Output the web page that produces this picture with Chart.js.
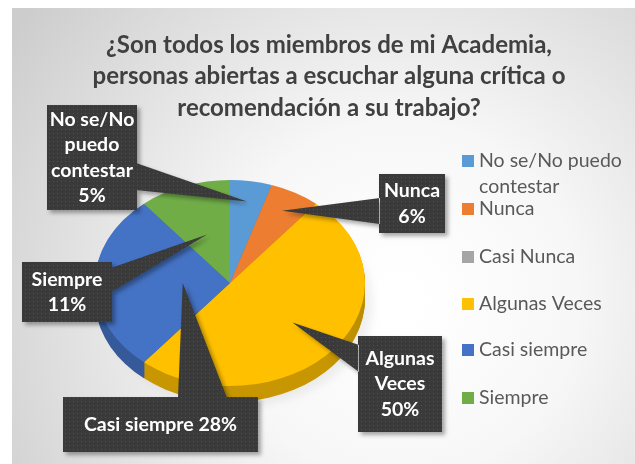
<!DOCTYPE html>
<html>
<head>
<meta charset="utf-8">
<script src="https://cdn.jsdelivr.net/npm/chart.js@4.4.1/dist/chart.umd.min.js"></script>
<style>
  body { margin: 0; background: #fff; }
  #wrap { width: 635px; height: 464px; }
</style>
</head>
<body>
<div id="wrap"><canvas id="pieChart" width="635" height="464"></canvas></div>
<script>
const titleLines = ['¿Son todos los miembros de mi Academia,', 'personas abiertas a escuchar alguna crítica o', 'recomendación a su trabajo?'];
const labels = ['No se/No puedo contestar', 'Nunca', 'Casi Nunca', 'Algunas Veces', 'Casi siempre', 'Siempre'];
const values = [5, 6, 0, 50, 28, 11];
const colors = ['#5b9bd5', '#ed7d31', '#a5a5a5', '#ffc000', '#4472c4', '#70ad47'];

// callout boxes (layout only): box, side where the pointer leaves, pointer base, depth into slice
const callouts = {
    0: { x: 47, y: 105, w: 90, h: 105, side: 'right', b0: 163, b1: 190, f: 0.8, sep: '\n' },
    1: { x: 379, y: 174, w: 66, h: 59, side: 'left', b0: 198, b1: 224, f: 0.8, sep: '\n' },
    3: { x: 358, y: 336, w: 84, h: 96, side: 'left', b0: 345, b1: 372, f: 0.6, sep: '\n' },
    4: { x: 63, y: 397, w: 195, h: 55, side: 'top', b0: 178, b1: 227, f: 0.35, sep: ' ' },
    5: { x: 22, y: 262, w: 90, h: 60, side: 'right', b0: 268, b1: 292, f: 0.5, sep: '\n' }
};

const squash = 0.763;
const depth = 16;

function shade(hex, k) {
    const n = parseInt(hex.slice(1), 16);
    const r = Math.round(((n >> 16) & 255) * k), g = Math.round(((n >> 8) & 255) * k), b = Math.round((n & 255) * k);
    return `rgb(${r},${g},${b})`;
}

let dots;
function dotPattern(ctx) {
    if (!dots) {
        const c = document.createElement('canvas');
        c.width = 4; c.height = 4;
        const p = c.getContext('2d');
        p.fillStyle = '#3a3a3a'; p.fillRect(0, 0, 4, 4);
        p.fillStyle = '#505050'; p.fillRect(1, 1, 1, 1);
        dots = ctx.createPattern(c, 'repeat');
    }
    return dots;
}

const background = {
    id: 'background',
    beforeDraw(chart) {
        const ctx = chart.ctx;
        ctx.save();
        ctx.fillStyle = '#ffffff';
        ctx.fillRect(0, 0, 635, 464);
        const g = ctx.createRadialGradient(400, 300, 20, 400, 300, 470);
        g.addColorStop(0, '#ffffff');
        g.addColorStop(0.35, '#f7f7f7');
        g.addColorStop(1, '#cdcdcd');
        ctx.fillStyle = g;
        ctx.fillRect(12, 8, 623, 456);
        ctx.restore();
    }
};

const pie3d = {
    id: 'pie3d',
    beforeDatasetsDraw(chart) {
        const ctx = chart.ctx;
        const arcs = chart.getDatasetMeta(0).data;
        const cx = arcs[0].x, cy = arcs[0].y, R = arcs[0].outerRadius;
        // soft shadow on the right side of the pie
        ctx.save();
        ctx.translate(cx + 8, cy + depth + 4);
        ctx.scale(1, squash);
        ctx.beginPath();
        ctx.arc(0, 0, R, 0, Math.PI * 2);
        ctx.fillStyle = 'rgba(0,0,0,0.06)';
        ctx.filter = 'blur(4px)';
        ctx.fill();
        ctx.restore();
        for (let d = depth; d >= 1; d--) {
            arcs.forEach((arc, i) => {
                if (arc.endAngle - arc.startAngle <= 0) return;
                const g = ctx.createLinearGradient(cx - R, 0, cx + R, 0);
                g.addColorStop(0, shade(colors[i], 0.78));
                g.addColorStop(1, shade(colors[i], 0.45));
                ctx.save();
                ctx.translate(cx, cy + d);
                ctx.scale(1, squash);
                ctx.beginPath();
                ctx.moveTo(0, 0);
                ctx.arc(0, 0, arc.outerRadius, arc.startAngle, arc.endAngle);
                ctx.closePath();
                ctx.fillStyle = g;
                ctx.fill();
                ctx.restore();
            });
        }
        ctx.save();
        ctx.translate(cx, cy);
        ctx.scale(1, squash);
        ctx.translate(-cx, -cy);
    },
    afterDatasetsDraw(chart) {
        chart.ctx.restore();
    }
};

function wrap(ctx, text, maxW) {
    const out = [];
    text.split('\n').forEach(part => {
        let line = '';
        part.split(' ').forEach(w => {
            const t = line ? line + ' ' + w : w;
            if (line && ctx.measureText(t).width > maxW) { out.push(line); line = w; }
            else line = t;
        });
        out.push(line);
    });
    return out;
}

const decorations = {
    id: 'decorations',
    afterDraw(chart) {
        const ctx = chart.ctx;
        const arcs = chart.getDatasetMeta(0).data;
        const cx = arcs[0].x, cy = arcs[0].y;

        // title
        ctx.save();
        ctx.fillStyle = '#404040';
        ctx.font = 'bold 24px Lato';
        ctx.textAlign = 'center';
        ctx.textBaseline = 'middle';
        titleLines.forEach((t, i) => ctx.fillText(t, 329, 45 + i * 31.5));
        ctx.restore();

        // legend
        ctx.save();
        ctx.font = '19.5px Lato';
        ctx.textBaseline = 'middle';
        const rows = [161, 209, 257, 304, 350, 398];
        labels.forEach((l, i) => {
            ctx.fillStyle = colors[i];
            ctx.fillRect(462, rows[i] - 6, 12, 12);
            ctx.fillStyle = '#595959';
            const lines = wrap(ctx, l, 150);
            lines.forEach((t, k) => ctx.fillText(t, 479, rows[i] + k * 26));
        });
        ctx.restore();

        // callouts
        Object.keys(callouts).forEach(key => {
            const i = +key, c = callouts[i], arc = arcs[i];
            const mid = (arc.startAngle + arc.endAngle) / 2;
            const tx = cx + Math.cos(mid) * arc.outerRadius * c.f;
            const ty = cy + Math.sin(mid) * arc.outerRadius * c.f * squash;
            ctx.save();
            ctx.beginPath();
            ctx.rect(c.x, c.y, c.w, c.h);
            if (c.side === 'right') {
                ctx.moveTo(c.x + c.w - 1, c.b0); ctx.lineTo(tx, ty); ctx.lineTo(c.x + c.w - 1, c.b1);
            } else if (c.side === 'left') {
                ctx.moveTo(c.x + 1, c.b0); ctx.lineTo(tx, ty); ctx.lineTo(c.x + 1, c.b1);
            } else {
                ctx.moveTo(c.b0, c.y + 1); ctx.lineTo(tx, ty); ctx.lineTo(c.b1, c.y + 1);
            }
            ctx.closePath();
            ctx.shadowColor = 'rgba(0,0,0,0.35)';
            ctx.shadowBlur = 4;
            ctx.shadowOffsetX = 3;
            ctx.shadowOffsetY = 3;
            ctx.fillStyle = dotPattern(ctx);
            ctx.fill('nonzero');
            ctx.restore();

            ctx.save();
            ctx.fillStyle = '#ffffff';
            ctx.font = 'bold 19.5px Lato';
            ctx.textAlign = 'center';
            ctx.textBaseline = 'middle';
            const lines = wrap(ctx, labels[i] + c.sep + values[i] + '%', c.w - 2);
            const lh = 25.5;
            const y0 = c.y + c.h / 2 - (lines.length - 1) * lh / 2;
            lines.forEach((t, k) => ctx.fillText(t, c.x + c.w / 2, y0 + k * lh));
            ctx.restore();
        });
    }
};

let chart;
function initChart() {
    const ctx = document.getElementById('pieChart').getContext('2d');
    chart = new Chart(ctx, {
        type: 'pie',
        data: {
            labels: labels,
            datasets: [{
                data: values,
                backgroundColor: colors,
                borderWidth: 0,
                hoverOffset: 0
            }]
        },
        options: {
            responsive: false,
            animation: false,
            events: [],
            layout: { padding: { left: 95, right: 270, top: 148, bottom: 46 } },
            plugins: { legend: { display: false }, tooltip: { enabled: false }, title: { display: false } }
        },
        plugins: [background, pie3d, decorations]
    });
}

window.onload = () => {
    initChart();
};
</script>
</body>
</html>
